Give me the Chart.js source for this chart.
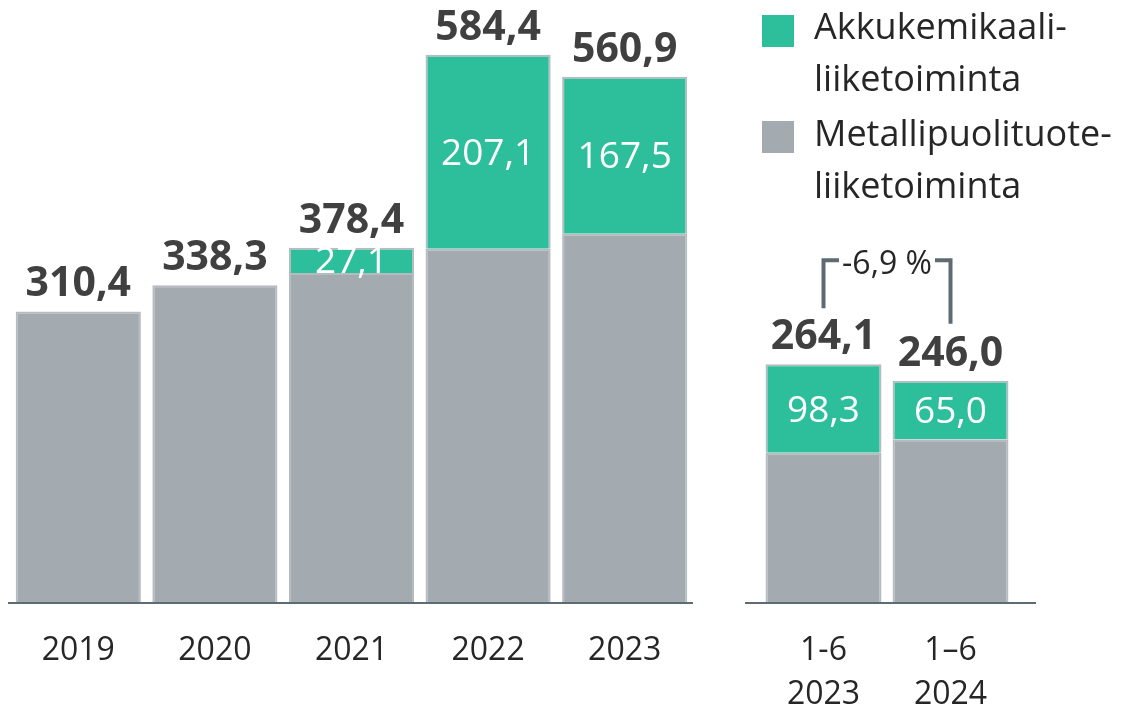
<!DOCTYPE html>
<html>
<head>
<meta charset="utf-8">
<script src="https://cdn.jsdelivr.net/npm/chart.js@4"></script>
<style>
    body { margin: 0; background: #fff; }
    #wrap { position: relative; width: 1132px; height: 710px; overflow: hidden; }
    #yearCanvas { position: absolute; left: 0; top: 0; }
    #halfCanvas { position: absolute; left: 740px; top: 0; }
    .legend { position: absolute; left: 814px; font: 36px 'Open Sans', sans-serif; line-height: 52px; color: #262626; }
    .swatch { position: absolute; left: 762px; width: 32px; height: 32px; }
</style>
</head>
<body>
<div id="wrap">
    <canvas id="yearCanvas" width="700" height="710"></canvas>
    <canvas id="halfCanvas" width="392" height="710"></canvas>
    <div class="swatch" style="top:15px;background:#2dbf9c"></div>
    <div class="legend" style="top:0px">Akkukemikaali-<br>liiketoiminta</div>
    <div class="swatch" style="top:121px;background:#a3aab0"></div>
    <div class="legend" style="top:107px">Metallipuolituote-<br>liiketoiminta</div>
</div>
<script>
// Vuosiluvut
const yearLabels = ['2019', '2020', '2021', '2022', '2023'];
const yearMetal = [310.4, 338.3, 351.3, 377.3, 393.4];
const yearBattery = [null, null, 27.1, 207.1, 167.5];
const yearTotals = [310.4, 338.3, 378.4, 584.4, 560.9];

// Puolivuosiluvut
const halfLabels = [['1-6', '2023'], ['1–6', '2024']];
const halfMetal = [165.8, 181.0];
const halfBattery = [98.3, 65.0];
const halfTotals = [264.1, 246.0];
const changeLabel = '-6,9 %';

const GREEN = '#2dbf9c';
const GREY = '#a3aab0';
const EDGE = '#b6bbbf';
const AXIS = '#5f6b73';
const FONT = "'Open Sans', sans-serif";

const fmt = v => v.toFixed(1).replace('.', ',');

// Akseliviiva (piirretään itse, jotta se voi jatkua alueen yli)
const axisLine = {
    id: 'axisLine',
    afterDatasetsDraw(chart, args, opts) {
        const { ctx, chartArea } = chart;
        ctx.save();
        ctx.strokeStyle = AXIS;
        ctx.lineWidth = 2;
        ctx.beginPath();
        ctx.moveTo(chartArea.left - opts.extLeft, chartArea.bottom + 1);
        ctx.lineTo(chartArea.right + opts.extRight, chartArea.bottom + 1);
        ctx.stroke();
        ctx.restore();
    }
};

// Summat pylväiden päälle ja akkukemikaalit vihreän osan sisään
const valueLabels = {
    id: 'valueLabels',
    afterDatasetsDraw(chart, args, opts) {
        const { ctx } = chart;
        const y = chart.scales.y;
        const metaBase = chart.getDatasetMeta(0);
        const metaTop = chart.getDatasetMeta(1);
        ctx.save();
        ctx.textAlign = 'center';
        ctx.textBaseline = 'alphabetic';
        opts.totals.forEach((total, i) => {
            const x = metaBase.data[i].x;
            ctx.font = 'bold 41px ' + FONT;
            ctx.fillStyle = '#404040';
            ctx.fillText(fmt(total), x, y.getPixelForValue(total) - 15);

            const value = chart.data.datasets[1].data[i];
            if (value != null) {
                const el = metaTop.data[i];
                const mid = (el.y + el.base) / 2;
                ctx.font = '37px ' + FONT;
                ctx.fillStyle = '#ffffff';
                ctx.fillText(fmt(value), x, mid + 13);
            }
        });
        ctx.restore();
    }
};

// Muutosprosentin sulkumerkki
const changeBracket = {
    id: 'changeBracket',
    afterDatasetsDraw(chart, args, opts) {
        if (!opts.text) return;
        const { ctx } = chart;
        const y = chart.scales.y;
        const meta = chart.getDatasetMeta(0);
        const x0 = meta.data[0].x;
        const x1 = meta.data[1].x;
        const top0 = y.getPixelForValue(opts.totals[0]);
        const top1 = y.getPixelForValue(opts.totals[1]);
        const level = Math.min(top0, top1) - 104;
        ctx.save();
        ctx.font = '32px ' + FONT;
        const w = ctx.measureText(opts.text).width;
        const mid = (x0 + x1) / 2;
        ctx.strokeStyle = AXIS;
        ctx.lineWidth = 4;
        ctx.beginPath();
        ctx.moveTo(x0, top0 - 56);
        ctx.lineTo(x0, level);
        ctx.lineTo(mid - w / 2 - 3, level);
        ctx.moveTo(mid + w / 2 + 3, level);
        ctx.lineTo(x1, level);
        ctx.lineTo(x1, top1 - 57);
        ctx.stroke();
        ctx.fillStyle = '#262626';
        ctx.textAlign = 'center';
        ctx.textBaseline = 'alphabetic';
        ctx.fillText(opts.text, mid, level + 14);
        ctx.restore();
    }
};

function makeChart(canvas, cfg) {
    return new Chart(canvas, {
        type: 'bar',
        data: {
            labels: cfg.labels,
            datasets: [
                { label: 'Metallipuolituoteliiketoiminta', data: cfg.metal, backgroundColor: GREY, borderColor: EDGE, borderWidth: 2 },
                { label: 'Akkukemikaaliliiketoiminta', data: cfg.battery, backgroundColor: GREEN, borderColor: EDGE, borderWidth: 2 }
            ]
        },
        options: {
            responsive: false,
            animation: false,
            devicePixelRatio: 1,
            datasets: { bar: { categoryPercentage: 1, barPercentage: cfg.barPct } },
            layout: { padding: { left: cfg.padLeft, right: cfg.padRight, top: 0, bottom: 0 } },
            plugins: {
                legend: { display: false },
                tooltip: { enabled: false },
                axisLine: { extLeft: cfg.extLeft, extRight: cfg.extRight },
                valueLabels: { totals: cfg.totals },
                changeBracket: { text: cfg.change, totals: cfg.totals }
            },
            scales: {
                x: {
                    stacked: true,
                    grid: { display: false, drawTicks: false },
                    border: { display: false },
                    ticks: { color: '#262626', font: { family: FONT, size: 32, lineHeight: 1.4 }, padding: 26, maxRotation: 0 },
                    afterFit: scale => { scale.height = 108; }
                },
                y: { stacked: true, display: false, min: 0, max: cfg.max }
            }
        },
        plugins: [axisLine, valueLabels, changeBracket]
    });
}

makeChart(document.getElementById('yearCanvas'), {
    labels: yearLabels, metal: yearMetal, battery: yearBattery, totals: yearTotals,
    barPct: 0.916, padLeft: 10, padRight: 7, extLeft: 2, extRight: 0, max: 643, change: null
});

makeChart(document.getElementById('halfCanvas'), {
    labels: halfLabels, metal: halfMetal, battery: halfBattery, totals: halfTotals,
    barPct: 0.913, padLeft: 20, padRight: 118, extLeft: 15, extRight: 22, max: 669, change: changeLabel
});
</script>
</body>
</html>
